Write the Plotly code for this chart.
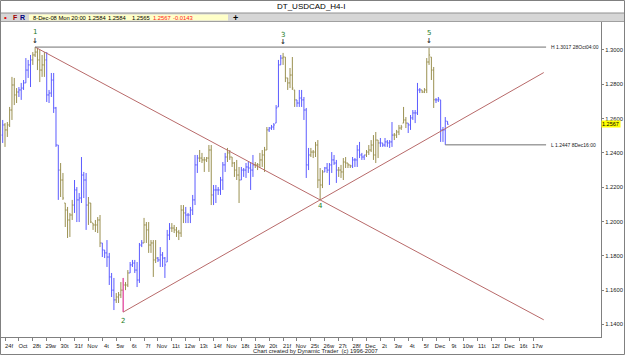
import plotly.graph_objects as go

# ---------------- data (H4 bars, USDCAD, 23-Oct-08 20:00 .. 8-Dec-08 20:00) ----------------
day_labels = ["24f", "Oct", "28t", "29w", "30t", "31f", "Nov", "4t", "5w", "6t", "7f",
              "Nov", "11t", "12w", "13t", "14f", "Nov", "18t", "19w", "20t", "21f",
              "Nov", "25t", "26w", "27t", "28f", "Dec", "2t", "3w", "4t", "5f",
              "Dec", "9t", "10w", "11t", "12f", "Dec", "16t", "17w"]
BARS_PER_DAY = 6
FIRST_DAY_BAR = 1  # bar index of 24-Oct 00:00

bar_open = [
    1.2504, 1.2563, 1.2534, 1.2563, 1.2650, 1.2796, 1.2738, 1.2755, 1.2767, 1.2778,
    1.2808, 1.2883, 1.2913, 1.2942, 1.2971, 1.2988, 1.2942, 1.2883, 1.2913, 1.2942,
    1.2738, 1.2749, 1.2825, 1.2662, 1.2446, 1.2300, 1.2242, 1.2108, 1.2067, 1.2009,
    1.2038, 1.2096, 1.2184, 1.2126, 1.2137, 1.2271, 1.2242, 1.2096, 1.2108, 1.1991,
    1.1980, 1.1980, 1.2009, 1.1875, 1.1834, 1.1817, 1.1793, 1.1677, 1.1600, 1.1543,
    1.1560, 1.1572, 1.1600, 1.1630, 1.1630, 1.1700, 1.1747, 1.1758, 1.1717, 1.1659,
    1.1863, 1.1875, 1.1980, 1.1951, 1.1863, 1.1875, 1.1776, 1.1787, 1.1776, 1.1805,
    1.1787, 1.1764, 1.1921, 1.1962, 1.1962, 1.1951, 1.1939, 1.1933, 1.2067, 1.2050,
    1.2038, 1.2038, 1.2067, 1.2126, 1.2330, 1.2370, 1.2370, 1.2359, 1.2359, 1.2370,
    1.2417, 1.2155, 1.2184, 1.2184, 1.2184, 1.2242, 1.2330, 1.2376, 1.2400, 1.2376,
    1.2341, 1.2300, 1.2271, 1.2242, 1.2300, 1.2300, 1.2318, 1.2312, 1.2300, 1.2330,
    1.2330, 1.2330, 1.2359, 1.2388, 1.2417, 1.2534, 1.2545, 1.2551, 1.2574, 1.2668,
    1.2913, 1.2953, 1.2959, 1.2837, 1.2808, 1.2854, 1.2767, 1.2709, 1.2691, 1.2720,
    1.2709, 1.2650, 1.2330, 1.2388, 1.2405, 1.2405, 1.2446, 1.2242, 1.2213, 1.2289,
    1.2312, 1.2300, 1.2330, 1.2359, 1.2341, 1.2300, 1.2300, 1.2289, 1.2347, 1.2341,
    1.2330, 1.2324, 1.2359, 1.2359, 1.2417, 1.2388, 1.2376, 1.2388, 1.2405, 1.2417,
    1.2446, 1.2388, 1.2475, 1.2458, 1.2458, 1.2446, 1.2464, 1.2458, 1.2464, 1.2504,
    1.2504, 1.2522, 1.2545, 1.2574, 1.2592, 1.2574, 1.2563, 1.2604, 1.2633, 1.2633,
    1.2767, 1.2767, 1.2755, 1.2767, 1.2930, 1.2959, 1.2883, 1.2709, 1.2709, 1.2709,
    1.2534, 1.2534, 1.2584]

bar_high = [
    1.2592, 1.2574, 1.2580, 1.2668, 1.2843, 1.2837, 1.2778, 1.2784, 1.2808, 1.2825,
    1.2953, 1.2942, 1.2971, 1.2988, 1.3017, 1.3012, 1.3000, 1.2971, 1.2988, 1.2988,
    1.2767, 1.2866, 1.2866, 1.2668, 1.2446, 1.2341, 1.2283, 1.2108, 1.2085, 1.2050,
    1.2126, 1.2242, 1.2201, 1.2166, 1.2376, 1.2289, 1.2283, 1.2143, 1.2108, 1.1991,
    1.2009, 1.2026, 1.2038, 1.1875, 1.1834, 1.1892, 1.1817, 1.1700, 1.1671, 1.1583,
    1.1589, 1.1647, 1.1671, 1.1647, 1.1717, 1.1764, 1.1776, 1.1776, 1.1764, 1.1875,
    1.1892, 1.2021, 1.1997, 1.1997, 1.1892, 1.1892, 1.1892, 1.1793, 1.1851, 1.1822,
    1.1793, 1.1951, 1.1991, 1.1991, 1.1980, 1.1968, 1.1951, 1.2096, 1.2096, 1.2085,
    1.2050, 1.2085, 1.2155, 1.2388, 1.2388, 1.2417, 1.2400, 1.2376, 1.2376, 1.2446,
    1.2446, 1.2213, 1.2213, 1.2201, 1.2260, 1.2347, 1.2400, 1.2429, 1.2417, 1.2376,
    1.2347, 1.2359, 1.2318, 1.2318, 1.2312, 1.2341, 1.2347, 1.2347, 1.2388, 1.2347,
    1.2341, 1.2400, 1.2417, 1.2435, 1.2551, 1.2551, 1.2563, 1.2574, 1.2679, 1.2942,
    1.2971, 1.2983, 1.2959, 1.2837, 1.2895, 1.2959, 1.2767, 1.2709, 1.2767, 1.2767,
    1.2726, 1.2662, 1.2429, 1.2429, 1.2417, 1.2464, 1.2475, 1.2312, 1.2300, 1.2318,
    1.2341, 1.2341, 1.2405, 1.2388, 1.2359, 1.2318, 1.2330, 1.2370, 1.2376, 1.2341,
    1.2330, 1.2376, 1.2370, 1.2446, 1.2464, 1.2400, 1.2388, 1.2417, 1.2446, 1.2475,
    1.2504, 1.2522, 1.2475, 1.2487, 1.2458, 1.2487, 1.2475, 1.2475, 1.2580, 1.2516,
    1.2534, 1.2563, 1.2563, 1.2668, 1.2609, 1.2574, 1.2621, 1.2650, 1.2650, 1.2808,
    1.2778, 1.2767, 1.2778, 1.2953, 1.3012, 1.2959, 1.2901, 1.2720, 1.2726, 1.2709,
    1.2551, 1.2609, 1.2584]

bar_low = [
    1.2458, 1.2435, 1.2493, 1.2551, 1.2592, 1.2679, 1.2691, 1.2726, 1.2709, 1.2767,
    1.2808, 1.2837, 1.2784, 1.2913, 1.2959, 1.2883, 1.2813, 1.2843, 1.2843, 1.2697,
    1.2691, 1.2726, 1.2633, 1.2435, 1.2126, 1.2143, 1.2126, 1.1968, 1.1904, 1.1910,
    1.2009, 1.2050, 1.1997, 1.1997, 1.2108, 1.2137, 1.1951, 1.1980, 1.1991, 1.1951,
    1.1939, 1.1933, 1.1851, 1.1793, 1.1787, 1.1735, 1.1630, 1.1560, 1.1484, 1.1525,
    1.1525, 1.1554, 1.1472, 1.1600, 1.1618, 1.1700, 1.1735, 1.1700, 1.1618, 1.1642,
    1.1851, 1.1875, 1.1875, 1.1817, 1.1817, 1.1677, 1.1758, 1.1764, 1.1735, 1.1735,
    1.1671, 1.1764, 1.1892, 1.1939, 1.1933, 1.1910, 1.1892, 1.1910, 1.1991, 1.1991,
    1.1991, 1.1991, 1.2038, 1.2096, 1.2283, 1.2347, 1.2341, 1.2289, 1.2347, 1.2289,
    1.2096, 1.2096, 1.2108, 1.2155, 1.2155, 1.2184, 1.2289, 1.2347, 1.2359, 1.2318,
    1.2260, 1.2242, 1.2108, 1.2242, 1.2260, 1.2254, 1.2283, 1.2184, 1.2260, 1.2312,
    1.2300, 1.2312, 1.2318, 1.2289, 1.2417, 1.2522, 1.2534, 1.2534, 1.2574, 1.2668,
    1.2913, 1.2913, 1.2813, 1.2767, 1.2778, 1.2767, 1.2668, 1.2668, 1.2668, 1.2668,
    1.2592, 1.2254, 1.2300, 1.2376, 1.2370, 1.2376, 1.2195, 1.2126, 1.2195, 1.2289,
    1.2283, 1.2213, 1.2283, 1.2330, 1.2225, 1.2260, 1.2254, 1.2242, 1.2312, 1.2312,
    1.2312, 1.2312, 1.2318, 1.2318, 1.2370, 1.2359, 1.2359, 1.2376, 1.2388, 1.2405,
    1.2359, 1.2341, 1.2370, 1.2435, 1.2435, 1.2435, 1.2435, 1.2429, 1.2435, 1.2475,
    1.2487, 1.2504, 1.2534, 1.2574, 1.2545, 1.2516, 1.2534, 1.2592, 1.2574, 1.2621,
    1.2749, 1.2749, 1.2749, 1.2749, 1.2913, 1.2825, 1.2662, 1.2691, 1.2697, 1.2464,
    1.2464, 1.2447, 1.2565]

bar_close = [
    1.2563, 1.2534, 1.2563, 1.2650, 1.2796, 1.2738, 1.2755, 1.2767, 1.2778, 1.2808,
    1.2883, 1.2913, 1.2942, 1.2971, 1.2988, 1.2942, 1.2883, 1.2913, 1.2942, 1.2738,
    1.2749, 1.2825, 1.2662, 1.2446, 1.2300, 1.2242, 1.2137, 1.2067, 1.2009, 1.2038,
    1.2096, 1.2184, 1.2126, 1.2137, 1.2271, 1.2242, 1.2096, 1.2108, 1.1997, 1.1980,
    1.1980, 1.2009, 1.1875, 1.1834, 1.1817, 1.1793, 1.1677, 1.1600, 1.1543, 1.1560,
    1.1572, 1.1600, 1.1630, 1.1630, 1.1700, 1.1747, 1.1758, 1.1717, 1.1659, 1.1863,
    1.1875, 1.1980, 1.1951, 1.1863, 1.1875, 1.1776, 1.1787, 1.1776, 1.1805, 1.1787,
    1.1747, 1.1921, 1.1962, 1.1962, 1.1951, 1.1939, 1.1933, 1.2067, 1.2050, 1.2038,
    1.2038, 1.2067, 1.2126, 1.2330, 1.2370, 1.2370, 1.2359, 1.2359, 1.2370, 1.2417,
    1.2155, 1.2184, 1.2184, 1.2184, 1.2242, 1.2330, 1.2376, 1.2400, 1.2376, 1.2341,
    1.2300, 1.2271, 1.2242, 1.2300, 1.2300, 1.2318, 1.2312, 1.2300, 1.2330, 1.2330,
    1.2330, 1.2359, 1.2388, 1.2417, 1.2534, 1.2545, 1.2551, 1.2563, 1.2662, 1.2913,
    1.2953, 1.2959, 1.2837, 1.2808, 1.2854, 1.2778, 1.2709, 1.2691, 1.2720, 1.2709,
    1.2650, 1.2330, 1.2388, 1.2405, 1.2405, 1.2446, 1.2242, 1.2213, 1.2289, 1.2312,
    1.2300, 1.2330, 1.2359, 1.2341, 1.2300, 1.2300, 1.2289, 1.2347, 1.2341, 1.2330,
    1.2324, 1.2359, 1.2359, 1.2417, 1.2388, 1.2376, 1.2388, 1.2405, 1.2417, 1.2446,
    1.2388, 1.2475, 1.2458, 1.2458, 1.2446, 1.2464, 1.2458, 1.2464, 1.2504, 1.2504,
    1.2522, 1.2545, 1.2551, 1.2592, 1.2574, 1.2563, 1.2604, 1.2633, 1.2633, 1.2767,
    1.2767, 1.2755, 1.2767, 1.2930, 1.2971, 1.2883, 1.2710, 1.2709, 1.2714, 1.2534,
    1.2534, 1.2586, 1.2567]

price_ticks = [1.14, 1.16, 1.18, 1.20, 1.22, 1.24, 1.26, 1.28, 1.30]
price_tick_text = ["1.1400", "1.1600", "1.1800", "1.2000", "1.2200", "1.2400", "1.2600", "1.2800", "1.3000"]

# pivots: (label, bar index, which extreme)
pivots = [("1", 14, "high"), ("2", 52, "low"), ("3", 121, "high"), ("4", 137, "low"), ("5", 184, "high")]
HIGH_LABEL = "H 1.3017 28Oct04:00"
LOW_LABEL = "L 1.2447 8Dec16:00"
LOW_BAR = 191
info_black = [("8-Dec-08 Mon 20:00", 31), ("1.2584", 86), ("1.2584", 106), ("1.2565", 130)]
info_red = [("1.2567", 151), ("-0.0143", 171)]
LINE_END = 233.5

# ---------------- styling ----------------
BLUE = "#5c5cff"
OLIVE = "#9a9050"
TREND = "#b86a6a"
GREY = "#808080"
FONT = "Liberation Sans"

n = len(bar_close)
idx = list(range(n))
day_of = [(k - FIRST_DAY_BAR) // BARS_PER_DAY for k in idx]

fig = go.Figure()
for color, parity in ((BLUE, 1), (OLIVE, 0)):
    sel = [k for k in idx if day_of[k] % 2 == parity]
    fig.add_trace(go.Ohlc(
        x=sel,
        open=[bar_open[k] for k in sel], high=[bar_high[k] for k in sel],
        low=[bar_low[k] for k in sel], close=[bar_close[k] for k in sel],
        increasing=dict(line=dict(color=color, width=1)),
        decreasing=dict(line=dict(color=color, width=1)),
        tickwidth=0.45, hoverinfo="skip", showlegend=False))

# highlighted low bar (pivot 2)
p2 = pivots[1][1]
fig.add_trace(go.Scatter(x=[p2, p2], y=[bar_low[p2], bar_high[p2]], mode="lines",
                         line=dict(color="#ff40c8", width=1), hoverinfo="skip", showlegend=False))

def piv_price(k, kind):
    return bar_high[k] if kind == "high" else bar_low[k]

P1 = (pivots[0][1], piv_price(pivots[0][1], "high"))
P2 = (pivots[1][1], piv_price(pivots[1][1], "low"))
P4 = (pivots[3][1], piv_price(pivots[3][1], "low"))

def extend(a, b, xe):
    return a[1] + (b[1] - a[1]) * (xe - a[0]) / (b[0] - a[0])

for a in (P1, P2):
    fig.add_trace(go.Scatter(x=[a[0], LINE_END], y=[a[1], extend(a, P4, LINE_END)], mode="lines",
                             line=dict(color=TREND, width=1), hoverinfo="skip", showlegend=False))

# H / L horizontal lines
fig.add_trace(go.Scatter(x=[P1[0], LINE_END + 1], y=[P1[1], P1[1]], mode="lines",
                         line=dict(color="#707070", width=1), hoverinfo="skip", showlegend=False))
fig.add_trace(go.Scatter(x=[LOW_BAR, LINE_END + 1], y=[bar_low[LOW_BAR], bar_low[LOW_BAR]], mode="lines",
                         line=dict(color="#707070", width=1), hoverinfo="skip", showlegend=False))

ann = []
ann.append(dict(x=LINE_END + 2.3, y=P1[1], text=HIGH_LABEL, xanchor="left", yanchor="middle",
                showarrow=False, font=dict(size=5, color="#202020", family=FONT)))
ann.append(dict(x=LINE_END + 2.3, y=bar_low[LOW_BAR], text=LOW_LABEL, xanchor="left", yanchor="middle",
                showarrow=False, font=dict(size=5, color="#202020", family=FONT)))

shifts = {"1": (15, 6), "3": (18, 11), "5": (15, 7), "2": (-9, None), "4": (-6, None)}
for lab, k, kind in pivots:
    py = piv_price(k, kind)
    s_num, s_arr = shifts[lab]
    ann.append(dict(x=k, y=py, text=lab, showarrow=False, yshift=s_num, xanchor="center", yanchor="middle",
                    font=dict(size=7, color="#1a7a1a", family="DejaVu Sans")))
    if s_arr is not None:
        ann.append(dict(x=k, y=py, text="<b>↓</b>", showarrow=False, yshift=s_arr, xanchor="center",
                        yanchor="middle", font=dict(size=7, color="#303030", family="DejaVu Sans")))

# current price label
ann.append(dict(xref="paper", x=1.0, y=bar_close[-1], text="1.2567 ", xanchor="left", yanchor="middle",
                showarrow=False, bgcolor="#ffff00", borderpad=0,
                font=dict(size=5.5, color="#000000", family=FONT)))

# header / footer (pixel positions converted to paper)
def px(xp):
    return (xp - 1) / 600.0

def py_(yp):
    return (337 - yp) / 315.0

ann.append(dict(xref="paper", yref="paper", x=px(311), y=py_(7), text="DT_USDCAD_H4-I", showarrow=False,
                xanchor="center", yanchor="middle", font=dict(size=8, color="#000000", family=FONT)))
ann.append(dict(xref="paper", yref="paper", x=px(2), y=py_(17.5), text="•", showarrow=False,
                xanchor="left", yanchor="middle", font=dict(size=8, color="#e00000", family=FONT)))
ann.append(dict(xref="paper", yref="paper", x=px(11), y=py_(17.5), text="<b>F</b>", showarrow=False,
                xanchor="left", yanchor="middle", font=dict(size=7, color="#a00000", family=FONT)))
ann.append(dict(xref="paper", yref="paper", x=px(18), y=py_(17.5), text="<b>R</b>", showarrow=False,
                xanchor="left", yanchor="middle", font=dict(size=7, color="#000080", family=FONT)))
for t, xp in info_black:
    ann.append(dict(xref="paper", yref="paper", x=px(xp), y=py_(17.5), text=t, showarrow=False,
                    xanchor="left", yanchor="middle", font=dict(size=5.8, color="#000000", family=FONT)))
for t, xp in info_red:
    ann.append(dict(xref="paper", yref="paper", x=px(xp), y=py_(17.5), text=t, showarrow=False,
                    xanchor="left", yanchor="middle", font=dict(size=5.8, color="#ff2020", family=FONT)))
ann.append(dict(xref="paper", yref="paper", x=px(235), y=py_(17.5), text="<b>+</b>", showarrow=False,
                xanchor="center", yanchor="middle", font=dict(size=9, color="#000000", family=FONT)))
ann.append(dict(xref="paper", yref="paper", x=px(315), y=py_(351), text="Chart created by Dynamic Trader  (c) 1996-2007",
                showarrow=False, xanchor="center", yanchor="middle", font=dict(size=5.8, color="#202020", family=FONT)))

shapes = [
    dict(type="rect", xref="paper", yref="paper", x0=px(0), x1=px(625), y0=py_(21.5), y1=py_(13),
         fillcolor="#d6d6d6", line=dict(width=0), layer="below"),
    dict(type="line", xref="paper", yref="paper", x0=px(0), x1=px(625), y0=py_(13), y1=py_(13),
         line=dict(color="#909090", width=1)),
    dict(type="line", xref="paper", yref="paper", x0=px(0), x1=px(625), y0=py_(21.5), y1=py_(21.5),
         line=dict(color="#a0a0a0", width=1)),
    dict(type="rect", xref="paper", yref="paper", x0=px(29), x1=px(228), y0=py_(20.5), y1=py_(14.5),
         fillcolor="#ffffc8", line=dict(width=0)),
    dict(type="rect", xref="paper", yref="paper", x0=px(0.5), x1=px(624.5), y0=py_(354.5), y1=py_(0.5),
         line=dict(color=GREY, width=1)),
]

fig.update_layout(
    width=625, height=355,
    margin=dict(l=1, r=24, t=22, b=18),
    paper_bgcolor="white", plot_bgcolor="white",
    showlegend=False, hovermode=False,
    font=dict(family=FONT, size=6, color="#202020"),
    annotations=ann, shapes=shapes,
    xaxis=dict(range=[-0.73, 258.2], showgrid=False, zeroline=False, showline=True, linecolor=GREY,
               ticks="outside", ticklen=3, tickcolor=GREY,
               tickvals=[FIRST_DAY_BAR + BARS_PER_DAY * d for d in range(len(day_labels))],
               ticktext=day_labels, tickfont=dict(size=5.8, family=FONT, color="#202020"),
               ticklabelshift=4, rangeslider=dict(visible=False), automargin=False, fixedrange=True),
    yaxis=dict(range=[1.13268, 1.31632], side="right", showgrid=False, zeroline=False, showline=True,
               linecolor=GREY, ticks="outside", ticklen=2, tickcolor=GREY,
               tickvals=price_ticks, ticktext=price_tick_text,
               tickfont=dict(size=5.8, family=FONT, color="#202020"), automargin=False, fixedrange=True),
)

fig.write_html("out.html")
